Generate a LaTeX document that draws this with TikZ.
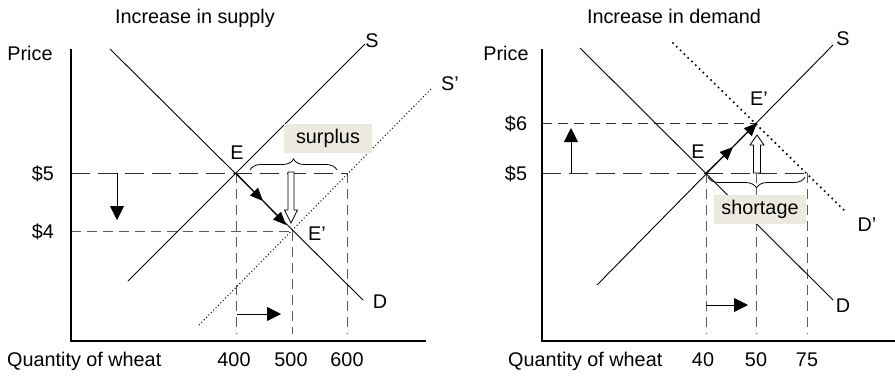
\documentclass[tikz,border=0pt]{standalone}
\usepackage{fontspec}
\setmainfont{Liberation Sans}
\usetikzlibrary{arrows.meta,decorations.pathreplacing}
\definecolor{beige}{RGB}{236,234,222}
\definecolor{dashdark}{RGB}{45,45,45}
\definecolor{dashgray}{RGB}{90,90,90}
\begin{document}
\begin{tikzpicture}[x=1pt,y=-1pt,
  curve/.style={line width=0.9pt},
  axisline/.style={line width=1.5pt},
  longguide/.style={dashdark,line width=0.9pt,dash pattern=on 19pt off 8pt},
  guide/.style={dashgray,line width=0.9pt,dash pattern=on 10pt off 6pt},
  finedots/.style={line width=1pt,dash pattern=on 1pt off 2.4pt},
  bigdots/.style={line width=2.3pt,line cap=round,dash pattern=on 0pt off 5.3pt},
  bigtip/.style={line width=0.9pt,-{Triangle[length=14pt,width=14pt]}},
  pathtip/.style={line width=0.9pt,-{Triangle[length=13pt,width=11pt]}},
  hollow/.style={fill=white,draw=black,line width=0.8pt},
  bracestyle/.style={line width=0.8pt,decorate,decoration={brace,amplitude=11pt}},
  tag/.style={fill=beige,inner sep=0pt,minimum width=88pt,minimum height=29pt,font=\fontsize{19.8}{22}\selectfont},
  lbl/.style={anchor=base,inner sep=0pt,font=\fontsize{19.8}{22}\selectfont},
  lblw/.style={lbl,anchor=base west}]
\useasboundingbox (0,0) rectangle (895,376);

% ---------------- Left panel: increase in supply ----------------
\coordinate (LO) at (71,341);
\coordinate (Ltop) at (71,49);
\coordinate (Lright) at (426,341);
\coordinate (LDa) at (110,49);
\coordinate (LDb) at (363,300);
\coordinate (LSa) at (128,281);
\coordinate (LSb) at (365,44);
\coordinate (LSpa) at (199,325);
\coordinate (LSpb) at (432,88);
\coordinate (LE) at (236,173);
\coordinate (LEp) at (292,231);
\coordinate (L5) at (71,173);
\coordinate (L5r) at (347,173);
\coordinate (L4) at (71,231);
\coordinate (LEb) at (236,334);
\coordinate (LEpb) at (292,334);
\coordinate (L5rb) at (347,334);
\coordinate (LdnA) at (117,173);
\coordinate (LdnB) at (117,220);
\coordinate (LrtA) at (237,314);
\coordinate (LrtB) at (281,314);
\coordinate (Lm1) at (263,201);
\coordinate (Lm2) at (286,225);
\coordinate (LbrA) at (250,170);
\coordinate (LbrB) at (337,170);

\draw[longguide] (L5) -- (L5r);
\draw[guide] (L4) -- (LEp);
\draw[guide] (LE) -- (LEb);
\draw[guide] (LEp) -- (LEpb);
\draw[guide] (L5r) -- (L5rb);
\draw[curve] (LDa) -- (LDb);
\draw[curve] (LSa) -- (LSb);
\draw[finedots] (LSpa) -- (LSpb);
\draw[axisline] (Ltop) -- (LO) -- (Lright);
\draw[bigtip] (LdnA) -- (LdnB);
\draw[bigtip] (LrtA) -- (LrtB);
\draw[pathtip] (LE) -- (Lm1);
\draw[pathtip] (Lm1) -- (Lm2);
\draw[hollow] (288,172) -- (294,172) -- (294,210) -- (297.5,210) -- (291,223) -- (284.5,210) -- (288,210) -- cycle;
\draw[bracestyle] (LbrA) -- (LbrB);
\node[tag] (surplus) at (328,138) {surplus};

\node[lbl] (t1) at (195,23) {Increase in supply};
\node[lbl] (p1) at (30,60) {Price};
\node[lbl] (d5l) at (43,180) {\$5};
\node[lbl] (d4l) at (43,238) {\$4};
\node[lbl] (El) at (237,159) {E};
\node[lbl] (Epl) at (317,240) {E’};
\node[lbl] (Sl) at (372,47) {S};
\node[lbl] (Spl) at (450,90) {S’};
\node[lbl] (Dl) at (380,308) {D};
\node[lblw] (q1) at (7,366) {Quantity of wheat};
\node[lbl] (x400) at (234,366) {400};
\node[lbl] (x500) at (291,366) {500};
\node[lbl] (x600) at (347,366) {600};

% ---------------- Right panel: increase in demand ----------------
\coordinate (RO) at (542,341);
\coordinate (Rtop) at (542,49);
\coordinate (Rright) at (895,341);
\coordinate (RDa) at (580,48);
\coordinate (RDb) at (833,300);
\coordinate (RSa) at (597,285);
\coordinate (RSb) at (833,45);
\coordinate (RDpa) at (673,43);
\coordinate (RDpb) at (847,213);
\coordinate (RE) at (706,173);
\coordinate (REp) at (757,123);
\coordinate (R6) at (542,123);
\coordinate (R5) at (542,173);
\coordinate (R5r) at (807,173);
\coordinate (REb) at (706,334);
\coordinate (Rmid) at (756,173);
\coordinate (Rmidb) at (756,334);
\coordinate (R5rb) at (807,334);
\coordinate (RupA) at (571,173);
\coordinate (RupB) at (571,128);
\coordinate (RrtA) at (706,305);
\coordinate (RrtB) at (748,305);
\coordinate (Rm1) at (733,147);
\coordinate (RbrA) at (805,177);
\coordinate (RbrB) at (708,177);

\draw[guide,dashdark] (R6) -- (REp);
\draw[longguide] (R5) -- (R5r);
\draw[guide] (RE) -- (REb);
\draw[guide] (Rmid) -- (Rmidb);
\draw[guide] (R5r) -- (R5rb);
\draw[curve] (RDa) -- (RDb);
\draw[curve] (RSa) -- (RSb);
\draw[bigdots] (RDpa) -- (RDpb);
\draw[axisline] (Rtop) -- (RO) -- (Rright);
\draw[bigtip] (RupA) -- (RupB);
\draw[bigtip] (RrtA) -- (RrtB);
\draw[pathtip] (RE) -- (Rm1);
\draw[pathtip] (Rm1) -- (REp);
\draw[hollow] (753.5,173) -- (760.5,173) -- (760.5,145) -- (764,145) -- (757,135) -- (750,145) -- (753.5,145) -- cycle;
\draw[bracestyle] (RbrA) -- (RbrB);
\node[tag,minimum width=92pt] (shortage) at (760,209) {shortage};

\node[lbl] (t2) at (674,23) {Increase in demand};
\node[lbl] (p2) at (506,60) {Price};
\node[lbl] (d6r) at (516,130) {\$6};
\node[lbl] (d5r) at (516,180) {\$5};
\node[lbl] (Er) at (698,158) {E};
\node[lbl] (Epr) at (759,105) {E’};
\node[lbl] (Sr) at (843,45) {S};
\node[lbl] (Dpr) at (867,231) {D’};
\node[lbl] (Dr) at (843,312) {D};
\node[lblw] (q2) at (508,366) {Quantity of wheat};
\node[lbl] (x40) at (703,366) {40};
\node[lbl] (x50) at (756,366) {50};
\node[lbl] (x75) at (807,366) {75};
\end{tikzpicture}
\end{document}
